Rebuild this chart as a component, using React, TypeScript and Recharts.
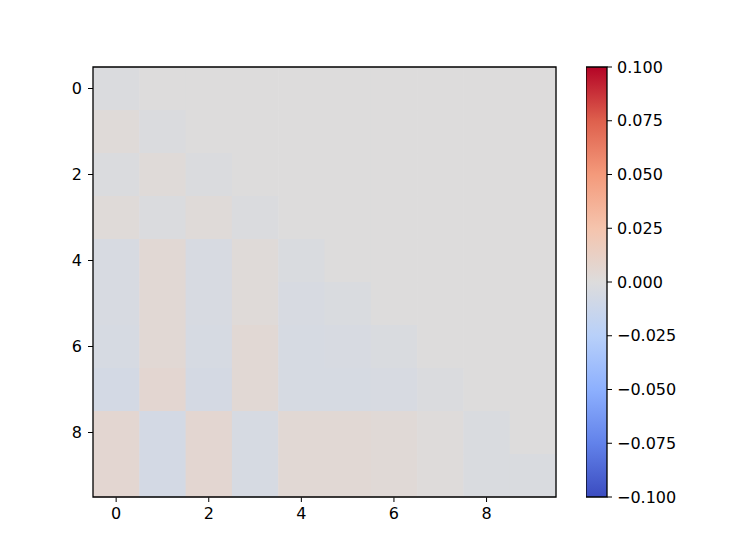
import React from 'react';
import { ScatterChart, Scatter, XAxis, YAxis, ReferenceArea } from 'recharts';

// matrix rows (lower triangle, the rest is 0)
const ROW_0 = [-0.002, 0, 0, 0, 0, 0, 0, 0, 0, 0];
const ROW_1 = [0.002, -0.002, 0, 0, 0, 0, 0, 0, 0, 0];
const ROW_2 = [-0.002, 0.002, -0.002, 0, 0, 0, 0, 0, 0, 0];
const ROW_3 = [0.002, -0.002, 0.002, -0.002, 0, 0, 0, 0, 0, 0];
const ROW_4 = [-0.004, 0.004, -0.004, 0.002, -0.003, 0, 0, 0, 0, 0];
const ROW_5 = [-0.004, 0.004, -0.004, 0.002, -0.004, -0.003, 0, 0, 0, 0];
const ROW_6 = [-0.005, 0.004, -0.005, 0.004, -0.005, -0.004, -0.003, 0, 0, 0];
const ROW_7 = [-0.007, 0.006, -0.006, 0.004, -0.005, -0.005, -0.004, -0.002, 0, 0];
const ROW_8 = [0.006, -0.007, 0.006, -0.005, 0.004, 0.004, 0.003, 0.001, -0.003, 0];
const ROW_9 = [0.006, -0.007, 0.006, -0.005, 0.004, 0.004, 0.003, 0.001, -0.003, -0.003];
const ROWS = [ROW_0, ROW_1, ROW_2, ROW_3, ROW_4, ROW_5, ROW_6, ROW_7, ROW_8, ROW_9];

const AXIS_TICKS = [0, 2, 4, 6, 8];
const CBAR_TICKS = [-0.1, -0.075, -0.05, -0.025, 0, 0.025, 0.05, 0.075, 0.1];
const VMIN = -0.1;
const VMAX = 0.1;

// coolwarm anchors
const CMAP: [number, number, number, number][] = [
  [0, 59, 76, 192],
  [0.125, 98, 130, 234],
  [0.25, 141, 176, 254],
  [0.375, 184, 208, 249],
  [0.5, 221, 220, 220],
  [0.625, 245, 196, 173],
  [0.75, 244, 154, 123],
  [0.875, 222, 96, 77],
  [1, 180, 4, 38],
];

function coolwarm(v: number) {
  const t = Math.max(0, Math.min(1, (v - VMIN) / (VMAX - VMIN)));
  for (let i = 1; i < CMAP.length; i++) {
    const a = CMAP[i - 1];
    const b = CMAP[i];
    if (t <= b[0]) {
      const f = (t - a[0]) / (b[0] - a[0]);
      const c = [1, 2, 3].map((k) => Math.round(a[k] + (b[k] - a[k]) * f));
      return `rgb(${c[0]},${c[1]},${c[2]})`;
    }
  }
  return 'rgb(180,4,38)';
}

const cells = ROWS.flatMap((row, y) => row.map((value, x) => ({ x, y, value })));

const PLOT_W = 463;
const PLOT_H = 430;
const CELL_W = PLOT_W / 10;
const CELL_H = PLOT_H / 10;
const MARGIN = { top: 67, right: 191, bottom: 63, left: 93 };

const font = { fontFamily: 'DejaVu Sans', fontSize: 16, fill: '#000' };

const fmt = (v: number) => (v < 0 ? '\u2212' + Math.abs(v).toFixed(3) : v.toFixed(3));

export default function App() {
  return (
    <div style={{ position: 'absolute', left: 0, top: 0, width: 747, height: 560, background: '#fff' }}>
      {/* heatmap */}
      <div style={{ position: 'absolute', left: 0, top: 0 }}>
        <ScatterChart width={747} height={560} margin={{ top: 67, right: 191, bottom: 33, left: 43 }}>
          <XAxis
            type="number"
            dataKey="x"
            domain={[-0.5, 9.5]}
            ticks={AXIS_TICKS}
            height={30}
            axisLine={false}
            tickLine={{ stroke: '#000' }}
            tickSize={5}
            tickMargin={6}
            tick={font}
          />
          <YAxis
            type="number"
            dataKey="y"
            reversed
            domain={[-0.5, 9.5]}
            ticks={AXIS_TICKS}
            width={50}
            axisLine={false}
            tickLine={{ stroke: '#000' }}
            tickSize={5}
            tickMargin={6}
            tick={font}
          />
          <Scatter
            data={cells}
            isAnimationActive={false}
            shape={(p: any) => (
              <rect
                x={p.cx - CELL_W / 2}
                y={p.cy - CELL_H / 2}
                width={CELL_W + 0.5}
                height={CELL_H + 0.5}
                fill={coolwarm(p.payload.value)}
              />
            )}
          />
        </ScatterChart>
      </div>
      {/* frame drawn on top of the cells */}
      <div style={{ position: 'absolute', left: 0, top: 0 }}>
        <ScatterChart width={747} height={560} margin={MARGIN}>
          <XAxis type="number" dataKey="x" domain={[-0.5, 9.5]} hide />
          <YAxis type="number" dataKey="y" reversed domain={[-0.5, 9.5]} hide />
          <Scatter data={cells} isAnimationActive={false} shape={() => <g />} />
          <ReferenceArea
            x1={-0.5}
            x2={9.5}
            y1={-0.5}
            y2={9.5}
            fill="#fff"
            fillOpacity={0}
            stroke="#000"
            strokeOpacity={1}
            strokeWidth={1.3}
          />
        </ScatterChart>
      </div>
      {/* colorbar */}
      <div style={{ position: 'absolute', left: 586, top: 0 }}>
        <ScatterChart width={140} height={560} margin={{ top: 67, right: 39, bottom: 63, left: 0 }}>
          <defs>
            <linearGradient id="cbGrad" x1="0" y1="0" x2="0" y2="1">
              {CMAP.map((c) => (
                <stop key={c[0]} offset={1 - c[0]} stopColor={`rgb(${c[1]},${c[2]},${c[3]})`} />
              )).reverse()}
            </linearGradient>
          </defs>
          <XAxis type="number" dataKey="x" domain={[0, 1]} hide />
          <YAxis
            type="number"
            dataKey="y"
            orientation="right"
            domain={[VMIN, VMAX]}
            ticks={CBAR_TICKS}
            width={80}
            axisLine={false}
            tickLine={{ stroke: '#000' }}
            tickSize={5}
            tickMargin={5}
            tick={{ ...font, textAnchor: 'start' }}
            tickFormatter={fmt}
            interval={0}
          />
          <Scatter data={[{ x: 0, y: VMIN }, { x: 1, y: VMAX }]} isAnimationActive={false} shape={() => <g />} />
          <ReferenceArea x1={0} x2={1} y1={VMIN} y2={VMAX} fill="url(#cbGrad)" fillOpacity={1} stroke="#000" strokeWidth={1.3} />
        </ScatterChart>
      </div>
    </div>
  );
}
